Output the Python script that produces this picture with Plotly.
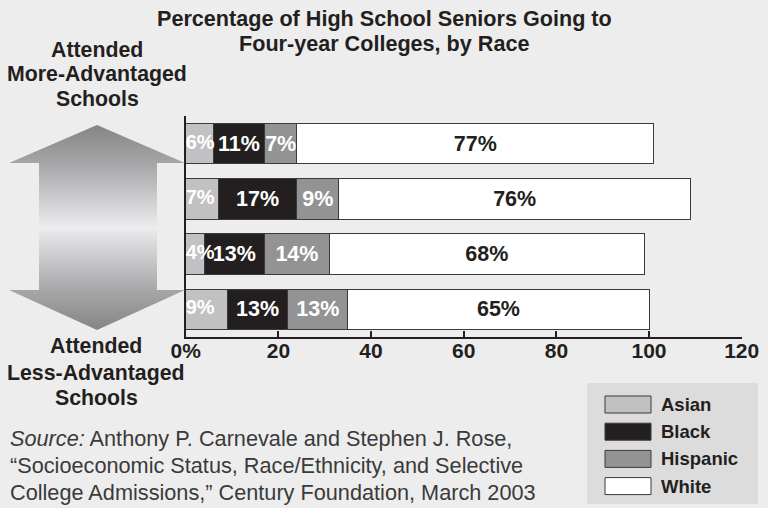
import plotly.graph_objects as go

# ---------------- data ----------------
school_groups = ["Most advantaged", "Second", "Third", "Least advantaged"]
races = ["Asian", "Black", "Hispanic", "White"]
asian = [6, 7, 4, 9]
black = [11, 17, 13, 13]
hispanic = [7, 9, 14, 13]
white = [77, 76, 68, 65]
tick_values = [0, 20, 40, 60, 80, 100, 120]
tick_labels = ["0%", "20", "40", "60", "80", "100", "120"]

title_lines = ["Percentage of High School Seniors Going to", "Four-year Colleges, by Race"]
top_label = ["Attended", "More-Advantaged", "Schools"]
bottom_label = ["Attended", "Less-Advantaged", "Schools"]
source_lines = [
    "<i>Source:</i> Anthony P. Carnevale and Stephen J. Rose,",
    "\u201cSocioeconomic Status, Race/Ethnicity, and Selective",
    "College Admissions,\u201d Century Foundation, March 2003",
]

# ---------------- style ----------------
W, H = 768, 508
FONT = "Liberation Sans, Arial, Helvetica, sans-serif"
BG = "#ededed"
colors = ["#c1c1c3", "#231f20", "#939394", "#ffffff"]
text_colors = ["#ffffff", "#ffffff", "#ffffff", "#231f20"]
series = [asian, black, hispanic, white]

# plot area in pixels
PX0, PX1 = 185.7, 741.7
PY0, PY1 = 116, 337

fig = go.Figure()

for i, (name, vals, col, tcol) in enumerate(zip(races, series, colors, text_colors)):
    first = i == 0
    fig.add_trace(go.Bar(
        name=name, y=school_groups, x=vals, orientation="h",
        marker=dict(color=col, line=dict(color="#3a3a3a", width=1)),
        text=None if first else [f"{v}%" for v in vals],
        textposition="inside",
        insidetextanchor="middle", textangle=0, constraintext="none",
        cliponaxis=False,
        textfont=dict(family=FONT, size=21.5, color=tcol, weight="bold"),
        showlegend=False, hoverinfo="skip",
        xaxis="x", yaxis="y",
    ))

# labels of the first (base) segment, drawn on top so overflow stays visible
stack_base = [0 for _ in asian]
fig.add_trace(go.Scatter(
    x=stack_base, y=school_groups, mode="text",
    text=[f"{v}%" for v in asian], textposition="middle right",
    textfont=dict(family=FONT, size=20, color=text_colors[0], weight="bold"),
    cliponaxis=False, showlegend=False, hoverinfo="skip",
    xaxis="x", yaxis="y",
))

# decorative double-headed arrow with vertical gradient
ax_x = [97, 9, 39, 39, 9, 97, 185, 157, 157, 185, 97]
ax_y = [125, 163, 163, 290, 290, 330, 290, 290, 163, 163, 125]
fig.add_trace(go.Scatter(
    x=ax_x, y=ax_y, mode="lines", fill="toself",
    line=dict(width=0, color="rgba(0,0,0,0)"),
    fillgradient=dict(type="vertical", colorscale=[
        [0.0, "#858585"], [0.2, "#a8a8aa"], [0.5, "#ececee"],
        [0.8, "#a8a8aa"], [1.0, "#858585"]]),
    xaxis="x2", yaxis="y2", showlegend=False, hoverinfo="skip",
))

annotations = []
shapes = []

def ann(text, x, y, size, bold=True, xanchor="center", color="#231f20"):
    annotations.append(dict(
        text=text, x=x / W, y=1 - y / H, xref="paper", yref="paper",
        xanchor=xanchor, yanchor="middle", showarrow=False,
        font=dict(family=FONT, size=size, color=color,
                  weight="bold" if bold else "normal"),
    ))

for line, yy in zip(title_lines, [18, 44]):
    ann(line, 384, yy, 21.6)
for line, yy in zip(top_label, [49.5, 74.5, 99.5]):
    ann(line, 97, yy, 21.3)
for line, yy in zip(bottom_label, [346, 372.5, 397.5]):
    ann(line, 96, yy, 21.3)
for line, yy in zip(source_lines, [438, 465, 492]):
    ann(line, 8, yy, 21.7, bold=False, xanchor="left", color="#3a3a3a")

# legend box
shapes.append(dict(type="rect", xref="paper", yref="paper",
                   x0=587 / W, x1=758 / W, y0=1 - 504 / H, y1=1 - 383 / H,
                   fillcolor="#dcdcdd", line=dict(width=0), layer="below"))
for i, (name, col) in enumerate(zip(races, colors)):
    cy = 404.5 + i * 27.2
    shapes.append(dict(type="rect", xref="paper", yref="paper",
                       x0=605 / W, x1=651 / W,
                       y0=1 - (cy + 8.5) / H, y1=1 - (cy - 8.5) / H,
                       fillcolor=col, line=dict(color="#3a3a3a", width=1)))
    ann(name, 659, cy, 18.5, xanchor="left")

fig.update_layout(
    width=W, height=H,
    margin=dict(l=0, r=0, t=0, b=0, autoexpand=False),
    paper_bgcolor=BG, plot_bgcolor=BG,
    barmode="stack", bargap=0.27,
    xaxis=dict(
        domain=[PX0 / W, PX1 / W], range=[0, 120], automargin=False,
        tickvals=tick_values, ticktext=tick_labels,
        ticks="inside", ticklen=6, tickwidth=2, tickcolor="#231f20",
        showline=True, linewidth=2, linecolor="#231f20",
        showgrid=False, zeroline=False, anchor="y",
        ticklabelstandoff=-6,
        tickfont=dict(family=FONT, size=21, color="#231f20", weight="bold"),
        fixedrange=True,
    ),
    yaxis=dict(
        domain=[1 - PY1 / H, 1 - PY0 / H], automargin=False,
        categoryorder="array", categoryarray=school_groups,
        autorange="reversed", showticklabels=False, ticks="",
        showline=True, linewidth=2, linecolor="#231f20",
        showgrid=False, zeroline=False, anchor="x", fixedrange=True,
    ),
    xaxis2=dict(domain=[0, 185 / W], range=[0, 185], visible=False,
                automargin=False, anchor="y2", fixedrange=True),
    yaxis2=dict(domain=[0, 1], range=[H, 0], visible=False,
                automargin=False, anchor="x2", fixedrange=True),
    annotations=annotations, shapes=shapes,
    showlegend=False,
)

fig.write_html("out.html")
